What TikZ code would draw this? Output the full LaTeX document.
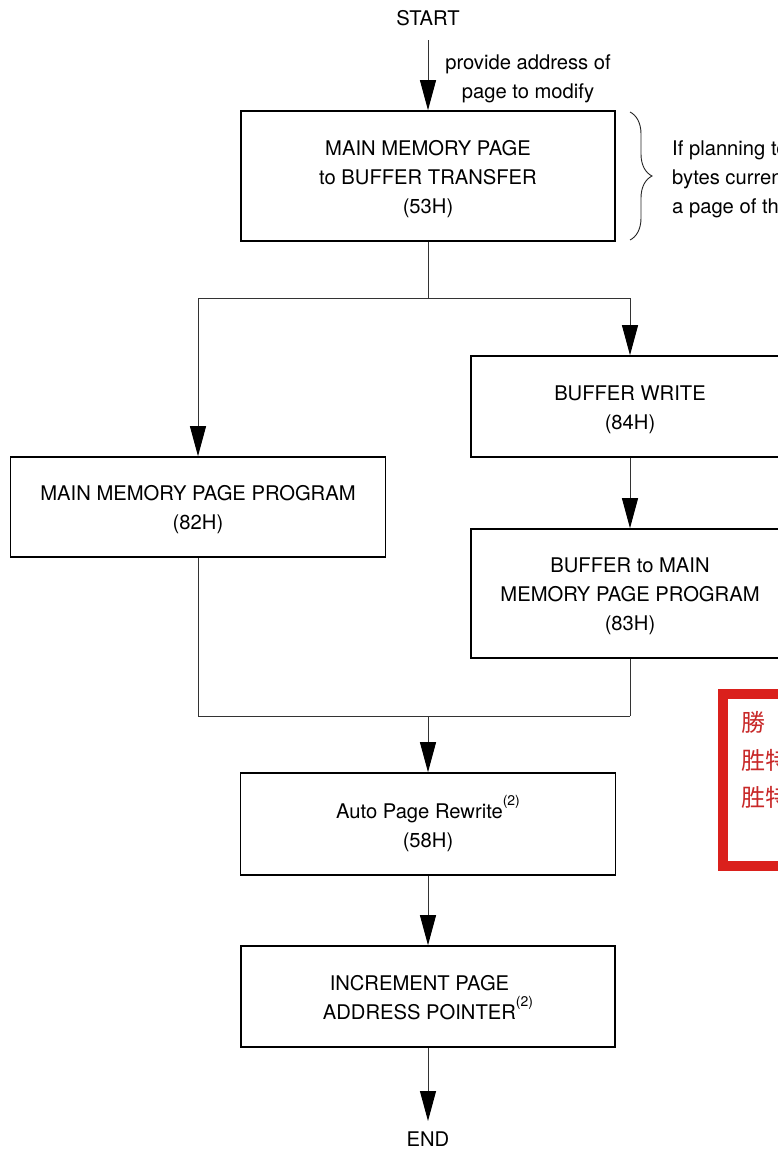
\documentclass[tikz,border=0pt]{standalone}
\usepackage{fontspec}
\setmainfont{TeX Gyre Heros}
\newfontfamily\cjk{Noto Sans CJK SC}
\usetikzlibrary{arrows.meta,decorations.pathreplacing}
\definecolor{stampred}{RGB}{218,32,28}
\definecolor{stamptext}{RGB}{200,40,40}
\newcommand{\supn}{\raisebox{13pt}{\fontsize{14}{14}\selectfont(2)}}
\newcommand{\tstrut}{\rule{0pt}{20.5pt}}
\begin{document}
\begin{tikzpicture}[x=1pt,y=-1pt,
  box/.style={draw=black,line width=1.6pt,align=center,inner sep=0pt,
    font=\fontsize{20.2}{29}\selectfont},
  lbl/.style={inner sep=0pt,align=center,font=\fontsize{20.2}{29}\selectfont},
  conn/.style={draw=black!80,line width=1pt},
  arr/.style={conn,-{Triangle[length=30pt,width=16pt,color=black]}},
  brc/.style={draw=black!85,line width=0.9pt,decorate,decoration={brace,amplitude=22pt}},
]
\useasboundingbox (0,0) rectangle (778,1149);
\clip (0,0) rectangle (778,1149);
\fill[white] (0,0) rectangle (778,1149);

% terminals
\node[lbl] (start) at (428,18) {START};
\node[lbl] (end) at (428,1139) {END};
\coordinate (s0) at (428,40);
\coordinate (e0) at (428,1121);

% boxes
\node[box,minimum width=374pt,minimum height=130pt] (b1) at (428,176)
  {\tstrut MAIN MEMORY PAGE\\to BUFFER TRANSFER\\(53H)};
\node[box,minimum width=375pt,minimum height=100pt] (b2) at (198,507)
  {\tstrut MAIN MEMORY PAGE PROGRAM\\(82H)};
\node[box,minimum width=318pt,minimum height=101pt] (b3) at (630,406.5)
  {\tstrut BUFFER WRITE\\(84H)};
\node[box,minimum width=318pt,minimum height=129pt] (b4) at (630,593.5)
  {\tstrut BUFFER to MAIN\\MEMORY PAGE PROGRAM\\(83H)};
\node[box,minimum width=375pt,minimum height=102pt] (b5) at (428,824)
  {Auto Page Rewrite\supn\\(58H)};
\node[box,minimum width=374pt,minimum height=101pt] (b6) at (428,996.5)
  {\rule{0pt}{18pt}INCREMENT PAGE\hspace*{17pt}\\ADDRESS POINTER\supn};

% label on first arrow
\node[lbl] (addr) at (528,79) {provide address of\\page to modify};

% brace and note
\coordinate (bt) at (630,112);
\coordinate (bb) at (630,240);
\draw[brc] (bt) -- (bb);
\node[lbl,anchor=west,align=left] (note) at (672,179)
  {If planning to modify multiple\\bytes currently stored within\\a page of the Flash array};

% junction coordinates
\coordinate (j1) at (428,298);
\coordinate (j1l) at (198,298);
\coordinate (j1r) at (630,298);
\coordinate (j2) at (428,716);
\coordinate (j2l) at (198,716);
\coordinate (j2r) at (630,716);

% connectors
\draw[arr] (s0) -- (b1.north);
\draw[conn] (b1.south) -- (j1);
\draw[conn] (j1l) -- (j1r);
\draw[arr] (j1l) -- (b2.north);
\draw[arr] (j1r) -- (b3.north);
\draw[arr] (b3.south) -- (b4.north);
\draw[conn] (b2.south) -- (j2l);
\draw[conn] (b4.south) -- (j2r);
\draw[conn] (j2l) -- (j2r);
\draw[arr] (j2) -- (b5.north);
\draw[arr] (b5.south) -- (b6.north);
\draw[arr] (b6.south) -- (e0);

% red stamp (partly outside the picture)
\draw[stampred,line width=10pt] (723,694) rectangle (820,866);
\node[inner sep=0pt,anchor=west,text=stamptext,font=\cjk\fontsize{24}{24}\selectfont] (st1) at (741,722) {勝};
\node[inner sep=0pt,anchor=west,text=stamptext,font=\cjk\fontsize{24}{24}\selectfont] (st2) at (741,760) {胜特};
\node[inner sep=0pt,anchor=west,text=stamptext,font=\cjk\fontsize{24}{24}\selectfont] (st3) at (741,797) {胜特};
\end{tikzpicture}
\end{document}
